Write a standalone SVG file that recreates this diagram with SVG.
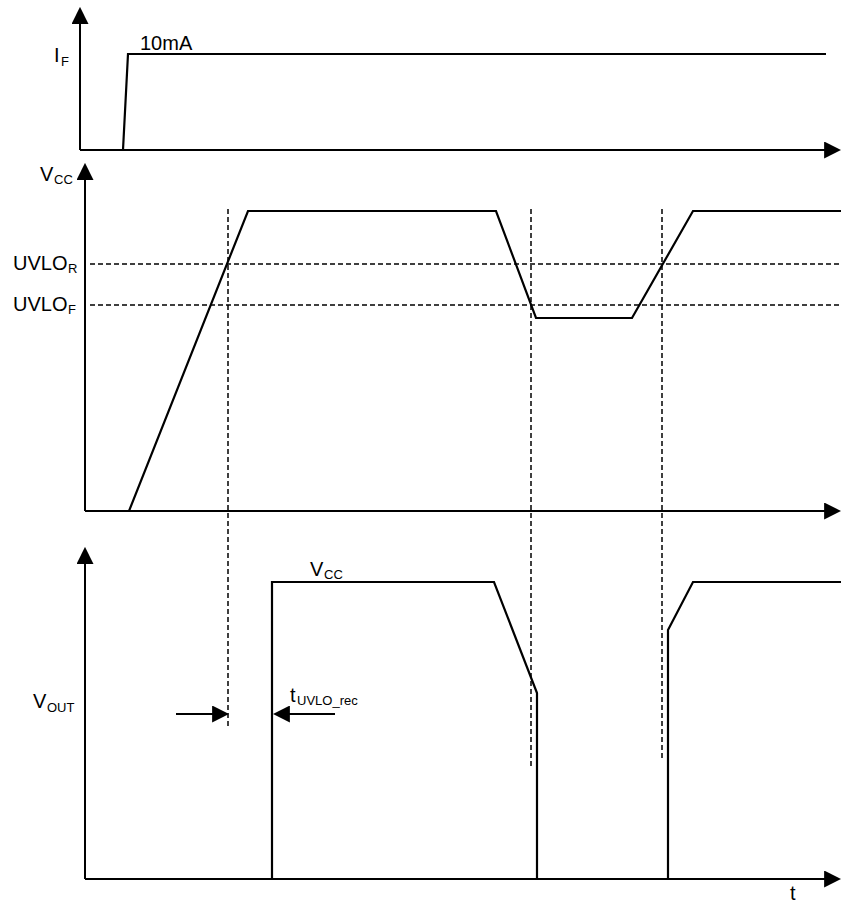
<svg xmlns="http://www.w3.org/2000/svg" width="841" height="903" viewBox="0 0 841 903">
  <style>
    .axis { stroke: #000; stroke-width: 2; fill: none; }
    .sig { stroke: #000; stroke-width: 2.2; fill: none; stroke-linejoin: miter; }
    .dash { stroke: #000; stroke-width: 1.5; fill: none; stroke-dasharray: 5 3; }
    .lbl { font-family: "Liberation Sans", Arial, sans-serif; font-size: 20px; fill: #000; }
    .sub { font-size: 13px; }
  </style>
  <defs>
    <marker id="arr" markerUnits="userSpaceOnUse" markerWidth="17" markerHeight="17" viewBox="0 0 16 16" refX="14" refY="8" orient="auto">
      <path d="M0,0 L16,8 L0,16 z" fill="#000"/>
    </marker>
  </defs>

  <g id="guides">
    <line class="dash" x1="90" y1="264" x2="841" y2="264"/>
    <line class="dash" x1="90" y1="305" x2="841" y2="305"/>
    <line class="dash" x1="228" y1="209" x2="228" y2="727"/>
    <line class="dash" x1="531" y1="209" x2="531" y2="766"/>
    <line class="dash" x1="662" y1="209" x2="662" y2="759"/>
  </g>

  <g id="axes">
    <line class="axis" x1="80" y1="150" x2="80" y2="9" marker-end="url(#arr)"/>
    <line class="axis" x1="80" y1="150" x2="839" y2="150" marker-end="url(#arr)"/>
    <line class="axis" x1="85" y1="511" x2="85" y2="165" marker-end="url(#arr)"/>
    <line class="axis" x1="85" y1="511" x2="839" y2="511" marker-end="url(#arr)"/>
    <line class="axis" x1="85" y1="879" x2="85" y2="549" marker-end="url(#arr)"/>
    <line class="axis" x1="85" y1="879" x2="839" y2="879" marker-end="url(#arr)"/>
  </g>

  <g id="signal-if">
    <polyline class="sig" points="80,150 123,150 128,54 826,54"/>
  </g>
  <g id="signal-vcc">
    <polyline class="sig" points="129,511 248,211 496,211 536,318 632,318 693,211 841,211"/>
  </g>
  <g id="signal-vout">
    <polyline class="sig" points="272,879 272,582 494,582 537,693 537,879"/>
    <polyline class="sig" points="668,879 668,630 693,582 841,582"/>
  </g>

  <g id="tuvlo-arrows">
    <line class="axis" x1="176" y1="714" x2="227" y2="714" marker-end="url(#arr)"/>
    <line class="axis" x1="335" y1="714" x2="275" y2="714" marker-end="url(#arr)"/>
  </g>

  <g id="labels" class="lbl">
    <text x="54" y="62">I<tspan class="sub" x="61" y="66">F</tspan></text>
    <text x="140" y="50">10mA</text>
    <text x="40" y="181">V<tspan class="sub" x="54" y="184">CC</tspan></text>
    <text x="13" y="270">UVLO<tspan class="sub" x="68" y="273">R</tspan></text>
    <text x="13" y="311">UVLO<tspan class="sub" x="68" y="314">F</tspan></text>
    <text x="33" y="708">V<tspan class="sub" x="47" y="712">OUT</tspan></text>
    <text x="310" y="576">V<tspan class="sub" x="324" y="579">CC</tspan></text>
    <text x="290" y="702">t<tspan class="sub" x="297" y="705">UVLO_rec</tspan></text>
    <text x="790" y="900">t</text>
  </g>
</svg>
